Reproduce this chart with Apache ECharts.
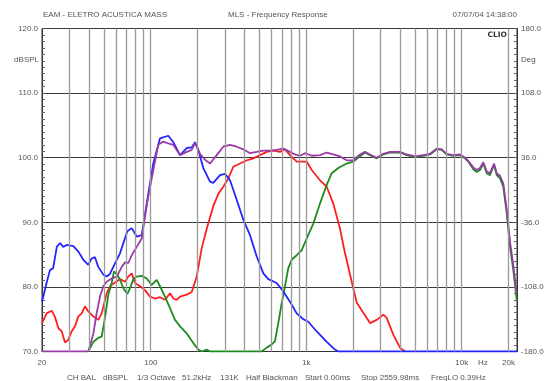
<!DOCTYPE html>
<html>
<head>
<meta charset="utf-8">
<script src="https://cdn.jsdelivr.net/npm/echarts@6/dist/echarts.min.js"></script>
<style>
  html, body { margin: 0; padding: 0; background: #fff; }
  #chart { width: 548px; height: 381px; }
</style>
</head>
<body>
<div id="chart"></div>
<script>
// Frequency response curves: [frequency Hz, level dBSPL]
const redCurve = [[20,74.4],[21.4,75.9],[23.1,76.3],[24.2,75.4],[25.5,73.6],[26.8,73.1],[28.1,71.4],[29.5,71.8],[31.0,73.1],[32.6,73.9],[34.2,75.4],[36.0,75.9],[37.8,77.0],[39.7,76.2],[42.8,75.4],[46.0,74.9],[48.4,75.9],[52.1,79.0],[54.7,80.1],[59.0,80.7],[63.5,81.2],[68.4,80.8],[71.8,81.6],[75.5,82.1],[79.3,80.6],[85.4,80.1],[91.9,79.5],[99.0,78.5],[106.6,78.2],[114.8,78.4],[123.6,78.0],[133.1,79.0],[139.8,78.2],[147.0,78.0],[154.4,78.5],[170.5,78.8],[183.6,79.2],[197.7,81.6],[212.9,86.0],[229.3,89.0],[252.7,92.5],[272.2,94.4],[293,95.5],[315.6,96.8],[339.9,98.6],[375.3,99.1],[414.5,99.6],[457.1,99.9],[504.8,100.4],[557.2,100.9],[614.4,101.1],[678.4,100.9],[730.6,101.3],[786.8,100.4],[869,99.4],[1008,99.4],[1085,98.1],[1227,96.5],[1355,95.5],[1494,92.9],[1650,89.0],[1777,85.2],[1962,80.8],[2113,77.6],[2330,76.0],[2573,74.4],[2841,74.9],[3132,75.7],[3293,75.2],[3632,72.6],[4011,70.6],[4319,70.0]];

const greenCurve = [[39.7,70],[42.8,71.5],[46.0,72.1],[48.4,72.3],[50.8,75.2],[53.4,78.8],[56.1,80.6],[58.1,82.4],[60.5,82.0],[63.5,81.1],[66.7,79.8],[70.7,78.9],[73.6,79.8],[77.3,81.2],[81.3,81.6],[87.6,81.7],[94.3,81.3],[101.5,80.3],[109.3,81.1],[114.8,80.1],[123.6,78.5],[133.1,76.7],[143.3,74.9],[154.4,73.9],[170.5,72.8],[187.9,71.3],[202.4,70.3],[212.9,70],[229.3,70.3],[240.7,70],[517.5,70],[557.2,70.6],[600,71.1],[630,71.6],[661.6,74.4],[695.8,77.5],[730.6,80.1],[767.2,82.9],[806.8,84.2],[869,84.9],[935.8,85.7],[1008,87.5],[1111,89.8],[1227,92.9],[1355,95.8],[1459,97.6],[1609,98.4],[1822,99.1],[2009,99.4],[2219,100.2],[2389,100.8],[2573,100.4],[2841,99.9],[3132,100.5],[3459,100.8],[4011,100.8],[4430,100.4],[5009,100.1],[5665,100.3],[6256,100.5],[6908,101.3],[7437,101.2],[8012,100.5],[8831,100.3],[9751,100.4],[10504,99.9],[11028,99.4],[11876,98.2],[12490,97.8],[13114,98.1],[13773,99.1],[14481,97.6],[15206,97.3],[16135,98.9],[16795,97.3],[17634,96.8],[18519,95.5],[19470,91.4],[20446,86.2],[21475,82.6],[22580,78.0]];

const blueCurve = [[20,77.7],[21.4,80.6],[22.5,82.6],[23.6,82.9],[24.9,86.2],[26.1,86.8],[27.4,86.2],[28.8,86.5],[31.8,86.3],[34.2,85.5],[36.9,84.2],[39.7,83.4],[41.7,84.4],[43.8,84.6],[46.0,83.1],[49.6,81.9],[52.1,81.6],[54.7,82.0],[57.5,83.1],[63.5,85.2],[70.7,88.6],[75.5,89.1],[81.3,87.8],[87.6,88.0],[94.3,92.9],[103.9,99.1],[114.8,103.0],[129.8,103.4],[139.8,102.4],[154.4,100.4],[170.5,101.5],[183.6,101.6],[192.7,102.4],[202.4,101.2],[218,98.4],[240.7,96.3],[252.7,96.1],[279,97.3],[300.4,97.5],[323.6,96.5],[357.4,93.5],[394.1,90.4],[435.3,88.0],[480.7,84.7],[530.2,82.1],[570.6,81.2],[646,80.6],[712.5,79.3],[786.8,77.7],[869,75.9],[958.2,75.0],[1032,74.6],[1169,73.1],[1355,71.5],[1532,70.3],[1609,70],[22680,70]];

const purpleCurve = [[20,70],[39.7,70],[40.7,70.3],[42.8,72.8],[44.9,75.9],[47.2,78.5],[49.6,80.1],[52.1,80.8],[56.1,81.3],[60.5,81.6],[65.1,83.1],[68.4,83.8],[71.8,83.7],[75.5,84.9],[81.3,86.2],[87.6,87.5],[91.9,90.9],[96.5,94.0],[103.9,98.1],[111.9,102.0],[120.5,102.5],[129.8,102.2],[139.8,102.0],[154.4,100.4],[170.5,100.9],[183.6,101.2],[192.7,102.3],[207.6,100.6],[223.4,99.7],[240.7,99.1],[265.8,100.4],[293,101.7],[323.6,102.0],[357.4,101.7],[394.1,101.3],[435.3,100.7],[480.7,100.9],[530.2,101.1],[585.1,101.1],[646,101.2],[712.5,101.4],[786.8,100.9],[847.2,100.5],[912.5,100.3],[982.6,100.7],[1085,100.3],[1227,100.4],[1355,100.8],[1494,100.5],[1650,100.2],[1822,99.6],[2009,99.6],[2219,100.5],[2389,100.9],[2573,100.5],[2841,100.0],[3132,100.6],[3459,100.9],[4011,100.9],[4430,100.5],[5009,100.2],[5665,100.4],[6256,100.6],[6908,101.4],[7437,101.3],[8012,100.6],[8831,100.4],[9751,100.5],[10504,100.0],[11028,99.5],[11876,98.5],[12490,98.1],[13114,98.4],[13773,99.3],[14481,97.9],[15206,97.6],[16135,99.1],[16795,97.6],[17634,97.2],[18519,96.0],[19470,92.0],[20446,87.0],[21475,83.3],[22580,79.0]];

// Vertical grid lines (Hz)
const gridFreqs = [30,40,50,60,70,80,90,100,200,300,400,500,600,700,800,900,1000,2000,3000,4000,5000,6000,7000,8000,9000,10000,20000];

// Axis ranges
const freqRange = [20, 22680];
const splRange = [70, 120];
const phaseRange = [-180, 180];

// Header and footer text
const headerLeft = 'EAM - ELETRO ACUSTICA MASS';
const headerCenter = 'MLS - Frequency Response';
const headerRight = '07/07/04 14:38:00';
const footerItems = [
  ['CH BAL', 67], ['dBSPL', 103], ['1/3 Octave', 137], ['51.2kHz', 182], ['131K', 220],
  ['Half Blackman', 246], ['Start 0.00ms', 305], ['Stop 2559.98ms', 361], ['FreqLO 0.39Hz', 431]
];

const FONT = '"Liberation Sans", Arial, sans-serif';
const TXT = '#555';

const chart = echarts.init(document.getElementById('chart'), null, { renderer: 'canvas' });

function txt(text, x, y, align, extra) {
  return Object.assign({
    type: 'text', x: x, y: y, silent: true,
    style: { text: text, fill: TXT, font: '8px ' + FONT, textAlign: align || 'left', textVerticalAlign: 'middle' }
  }, extra || {});
}

function lineSeries(name, data, color) {
  return {
    name: name, type: 'line', data: data, showSymbol: false, symbol: 'none',
    lineStyle: { color: color, width: 1.8 }, itemStyle: { color: color },
    z: 3, animation: false, silent: true
  };
}

const option = {
  animation: false,
  backgroundColor: '#fff',
  grid: { left: 42, right: 31, top: 28.5, bottom: 29.5, show: true, borderColor: '#333', borderWidth: 1 },
  xAxis: {
    type: 'log', logBase: 10, min: freqRange[0], max: freqRange[1],
    axisLine: { show: true, onZero: false, lineStyle: { color: '#333' } },
    axisTick: { show: false },
    splitLine: { show: false },
    axisLabel: {
      color: TXT, fontSize: 8, fontFamily: FONT, margin: 7, showMaxLabel: false,
      formatter: function (v) {
        const r = Math.round(v);
        return r >= 1000 ? Math.round(r / 1000) + 'k' : String(r);
      }
    }
  },
  yAxis: [
    {
      type: 'value', min: splRange[0], max: splRange[1], interval: 10,
      axisLine: { show: true, lineStyle: { color: '#333' } },
      axisTick: { show: true, inside: true, length: 4, lineStyle: { color: '#555' } },
      minorTick: { show: true, splitNumber: 10, length: 3, lineStyle: { color: '#666' } },
      splitLine: { show: true, lineStyle: { color: '#3a3a3a', width: 1 } },
      axisLabel: { color: TXT, fontSize: 8, fontFamily: FONT, margin: 4, formatter: v => v.toFixed(1) }
    },
    {
      type: 'value', min: phaseRange[0], max: phaseRange[1], interval: 72, position: 'right',
      axisLine: { show: true, lineStyle: { color: '#333' } },
      axisTick: { show: true, inside: true, length: 4, lineStyle: { color: '#555' } },
      minorTick: { show: true, splitNumber: 10, length: 3, lineStyle: { color: '#666' } },
      splitLine: { show: false },
      axisLabel: { color: TXT, fontSize: 8, fontFamily: FONT, margin: 4, formatter: v => v.toFixed(1) }
    }
  ],
  series: [
    {
      name: 'grid', type: 'line', data: [], z: 1, silent: true, animation: false,
      markLine: {
        silent: true, animation: false, symbol: ['none', 'none'],
        label: { show: false },
        lineStyle: { color: '#9a9a9a', width: 1.3, type: 'solid' },
        emphasis: { disabled: true },
        data: gridFreqs.map(f => ({ xAxis: f }))
      }
    },
    lineSeries('red', redCurve, '#ff1f1f'),
    lineSeries('green', greenCurve, '#1c8c1c'),
    lineSeries('blue', blueCurve, '#2424ff'),
    lineSeries('purple', purpleCurve, '#9a3aa6')
  ]
};

chart.setOption(option);

// Text that is not part of the axes
const x20k = chart.convertToPixel({ xAxisIndex: 0 }, 20000);
const xHz = chart.convertToPixel({ xAxisIndex: 0 }, 13700);
const graphics = [
  txt(headerLeft, 43, 15),
  txt(headerCenter, 228, 15),
  txt(headerRight, 517, 15, 'right'),
  txt('dBSPL', 39, 60, 'right'),
  txt('Deg', 521, 60),
  txt('Hz', xHz, 362.5, 'center'),
  txt('20k', x20k, 362.5, 'center'),
  {
    type: 'text', x: 507, y: 35, silent: true,
    style: { text: 'CLIO', fill: '#333', font: 'bold 7.5px "DejaVu Sans", sans-serif', textAlign: 'right', textVerticalAlign: 'middle' }
  }
].concat(footerItems.map(it => txt(it[0], it[1], 377.5)));

chart.setOption({ graphic: graphics });
</script>
</body>
</html>
